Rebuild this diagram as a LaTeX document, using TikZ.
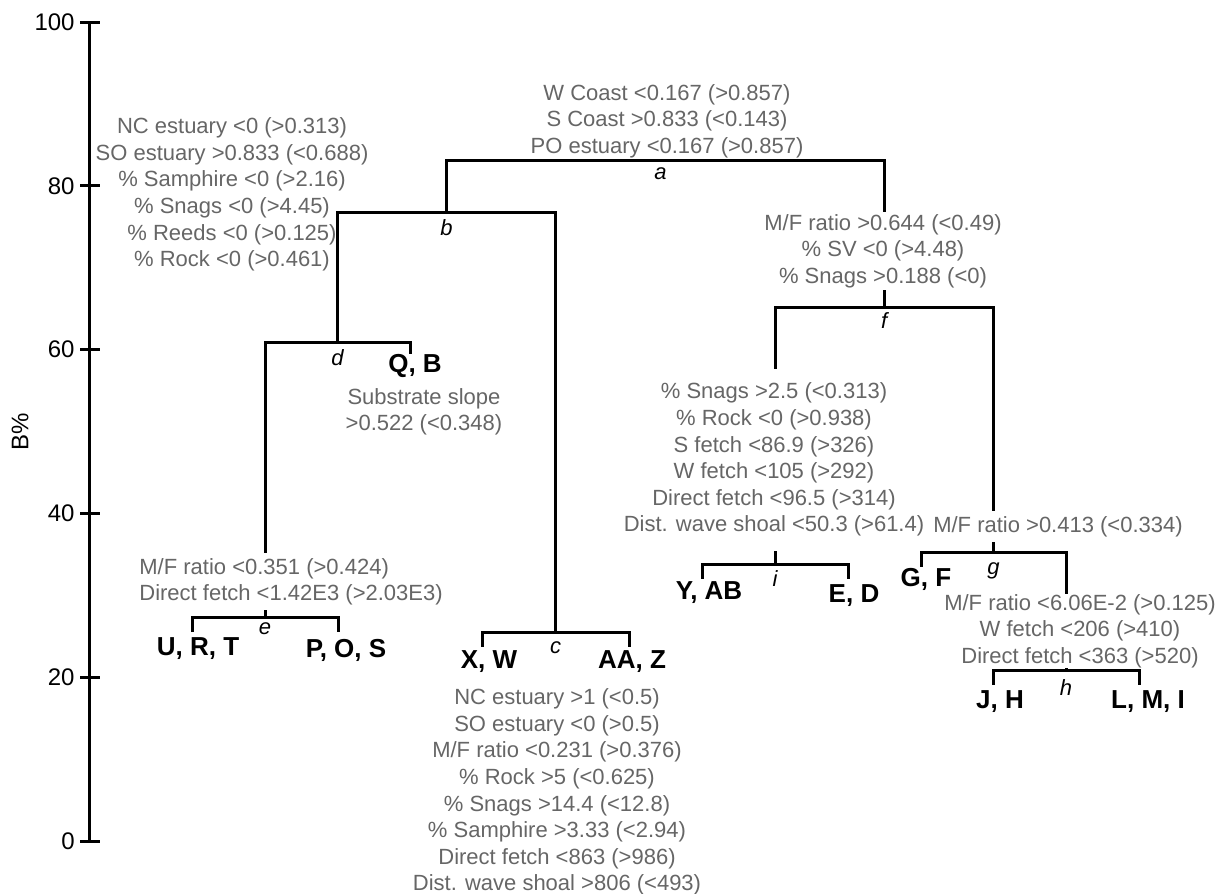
\documentclass[tikz,border=0pt]{standalone}
\usepackage{fontspec}
\setmainfont{Liberation Sans}
\usetikzlibrary{positioning}

\begin{document}
\begin{tikzpicture}[
	x=0.5pt, y=4.095pt,
	node distance=3.5pt,
	tree/.style={line width=1.5pt},
	tick_label/.style={anchor=east, inner sep=1pt, font=\fontsize{12}{14}\selectfont},
	cond_text/.style={align=center, text=black!60, inner sep=1pt, font=\fontsize{11}{13.3}\selectfont},
	cut_text/.style={cond_text, fill=white},
	leaf_label/.style={inner sep=1pt, font=\fontsize{13}{15}\selectfont\bfseries},
	split_label/.style={inner sep=0pt, font=\fontsize{11}{13}\selectfont\itshape}
	]
	\useasboundingbox (-89,-6.35) rectangle (1136,102.69);
	
	% --- AXIS B% ---
	\coordinate (y0) at (0,0);
	\coordinate (y100) at (0,100);
	\draw[tree] (y0) -- (y100);
	\foreach \v in {0,20,...,100} {
		\draw[tree] (-9,\v) -- (11,\v);
		\node[tick_label] (t\v) at (-12,\v) {\v};
	}
	\node[rotate=90, font=\fontsize{12}{14}\selectfont] (ylab) at (-69,50) {B\%};
	
	% --- SPLITS AND LEAF STUBS ---
	\coordinate (a) at (576.4,83.15);
	\coordinate (b) at (357.5,76.8);
	\coordinate (c) at (466.5,25.52);
	\coordinate (d) at (248.5,60.93);
	\coordinate (e) at (176,27.35);
	\coordinate (f) at (795.25,65.2);
	\coordinate (g) at (904.5,35.29);
	\coordinate (h) at (977,20.88);
	\coordinate (i) at (686,33.82);
	\coordinate (URT) at (103,25.5);
	\coordinate (POS) at (249,25.5);
	\coordinate (QB) at (321,59.5);
	\coordinate (XW) at (393,23.7);
	\coordinate (AAZ) at (540,23.7);
	\coordinate (YAB) at (613,32);
	\coordinate (ED) at (759,32);
	\coordinate (GF) at (832,33.5);
	\coordinate (JH) at (904,19.1);
	\coordinate (LMI) at (1050,19.1);
	
	% --- BRANCHES ---
	\draw[tree] (URT) |- (e) -| (POS);
	\draw[tree] (e) |- (d) -| (QB);
	\draw[tree] (XW) |- (c) -| (AAZ);
	\draw[tree] (d) |- (b) -| (c);
	\draw[tree] (b) |- (a) -| (f);
	\draw[tree] (YAB) |- (i) -| (ED);
	\draw[tree] (JH) |- (h) -| (LMI);
	\draw[tree] (GF) |- (g) -| (h);
	\draw[tree] (i) |- (f) -| (g);
	
	% --- SPLIT LETTERS ---
	\node[split_label, below=of a, xshift=-2.5pt] (la) {a};
	\node[split_label, below=of b] (lb) {b};
	\node[split_label, below=4.5pt of c] (lc) {c};
	\node[split_label, below=of d] (ld) {d};
	\node[split_label, below=2.6pt of e] (le) {e};
	\node[split_label, below=2.5pt of f] (lf) {f};
	\node[split_label, below=5pt of g] (lg) {g};
	\node[split_label, below=4.5pt of h] (lh) {h};
	\node[split_label, below=3pt of i] (li) {i};
	
	% --- LEAVES ---
	\node[leaf_label] (urt) at (109,23.45) {U, R, T};
	\node[leaf_label] (pos) at (257,23.3) {P, O, S};
	\node[leaf_label] (qb) at (326,58.0) {Q, B};
	\node[leaf_label] (xw) at (400,21.86) {X, W};
	\node[leaf_label] (aaz) at (543,21.86) {AA, Z};
	\node[leaf_label] (yab) at (620,30.3) {Y, AB};
	\node[leaf_label] (ed) at (765,30.0) {E, D};
	\node[leaf_label] (gf) at (837,31.9) {G, F};
	\node[leaf_label] (jh) at (911,16.97) {J, H};
	\node[leaf_label] (lmi) at (1059,16.97) {L, M, I};
	
	% --- SPLIT CONDITIONS ---
	\node[cond_text] (ta) at (578,87.9) {W Coast <0.167 (>0.857)\\S Coast >0.833 (<0.143)\\PO estuary <0.167 (>0.857)};
	\node[cond_text] (tb) at (143,78.95) {NC estuary <0 (>0.313)\\SO estuary >0.833 (<0.688)\\\% Samphire <0 (>2.16)\\\% Snags <0 (>4.45)\\\% Reeds <0 (>0.125)\\\% Rock <0 (>0.461)};
	\node[cut_text] (tf) at (794,72.05) {M/F ratio >0.644 (<0.49)\\\% SV <0 (>4.48)\\\% Snags >0.188 (<0)};
	\node[cond_text] (td) at (335,52.4) {Substrate slope\\>0.522 (<0.348)};
	\node[cut_text, align=left, anchor=west, inner ysep=2.5pt] (te) at (48,31.65) {M/F ratio <0.351 (>0.424)\\Direct fetch <1.42E3 (>2.03E3)};
	\node[cond_text] (tc) at (468,5.98) {NC estuary >1 (<0.5)\\SO estuary <0 (>0.5)\\M/F ratio <0.231 (>0.376)\\\% Rock >5 (<0.625)\\\% Snags >14.4 (<12.8)\\\% Samphire >3.33 (<2.94)\\Direct fetch <863 (>986)\\Dist. wave shoal >806 (<493)};
	\node[cut_text, inner ysep=7pt] (ti) at (685,46.55) {\% Snags >2.5 (<0.313)\\\% Rock <0 (>0.938)\\S fetch <86.9 (>326)\\W fetch <105 (>292)\\Direct fetch <96.5 (>314)\\Dist. wave shoal <50.3 (>61.4)};
	\node[cut_text, inner ysep=2.5pt] (tg) at (969,38.4) {M/F ratio >0.413 (<0.334)};
	\node[cut_text, inner ysep=0pt] (th) at (991,25.65) {M/F ratio <6.06E-2 (>0.125)\\W fetch <206 (>410)\\Direct fetch <363 (>520)};
	
\end{tikzpicture}
\end{document}
